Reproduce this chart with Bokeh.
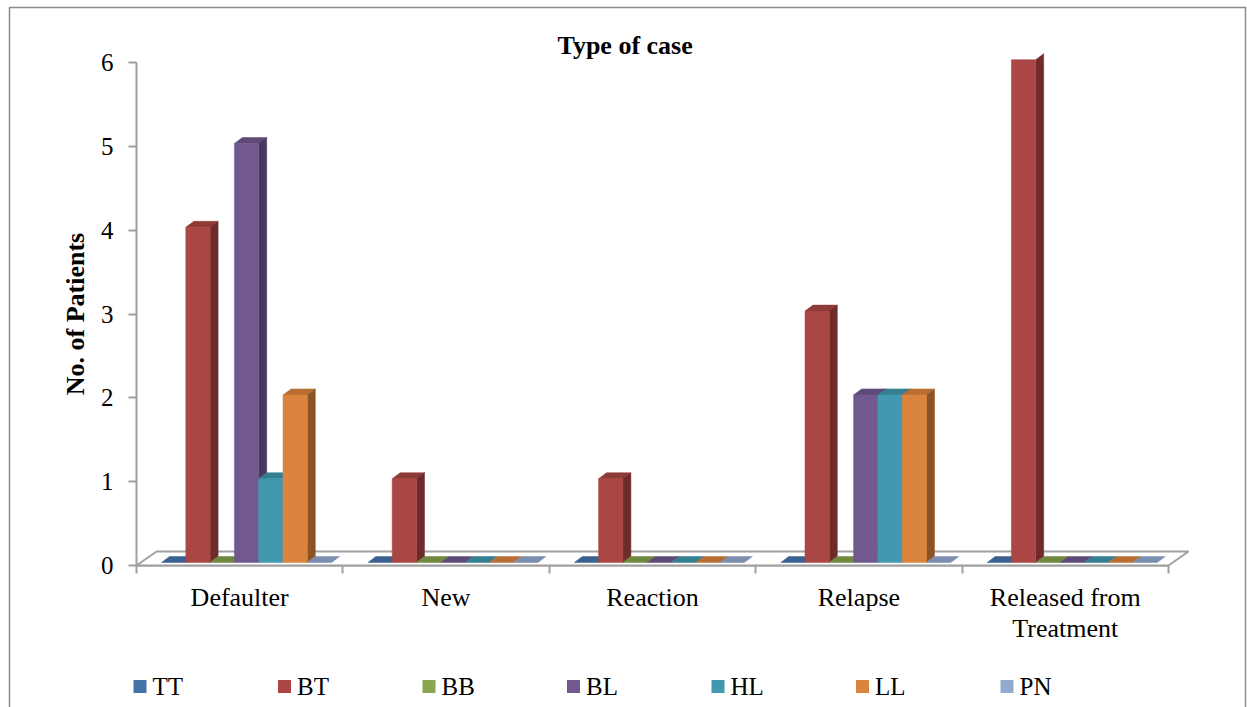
from bokeh.plotting import figure
from bokeh.models import Range1d, LinearAxis, FixedTicker, Title
from bokeh.core.properties import value
from bokeh.embed import file_html
from bokeh.resources import INLINE

# ---------------- data ----------------
categories = ["Defaulter", "New", "Reaction", "Relapse", "Released from\nTreatment"]
series = ["TT", "BT", "BB", "BL", "HL", "LL", "PN"]
TT = [0, 0, 0, 0, 0]
BT = [4, 1, 1, 3, 6]
BB = [0, 0, 0, 0, 0]
BL = [5, 0, 0, 2, 0]
HL = [1, 0, 0, 2, 0]
LL = [2, 0, 0, 2, 0]
PN = [0, 0, 0, 0, 0]
y_ticks = [0, 1, 2, 3, 4, 5, 6]
values = [TT, BT, BB, BL, HL, LL, PN]

front_colors = ["#4572A7", "#AA4643", "#89A54E", "#71588F", "#4198AF", "#DB843D", "#93A9CF"]
side_colors = ["#2C4A70", "#6E2B2A", "#5A6E33", "#48385C", "#2A6474", "#8C5426", "#5F6E87"]
top_colors = ["#3A6190", "#8E3A37", "#70883F", "#5E4978", "#357F93", "#B86E32", "#7B8EAF"]

# ---------------- layout (pixels) ----------------
W, H = 1247, 707
LEFT, RIGHT, TOP, BOTTOM = 136, 10, 62, 142
PX_X = 206.4   # pixels per category
PX_Y = 83.8    # pixels per patient
frame_w = W - LEFT - RIGHT
frame_h = H - TOP - BOTTOM
FONT = "Liberation Serif"
GRAY = "#A0A0A0"

p = figure(width=W, height=H, output_backend="svg", toolbar_location=None,
           x_range=Range1d(0, frame_w / PX_X), y_range=Range1d(0, frame_h / PX_Y),
           x_axis_location=None, y_axis_location=None, title=None,
           min_border_left=LEFT, min_border_right=RIGHT,
           min_border_top=TOP, min_border_bottom=BOTTOM)
p.grid.visible = False
p.outline_line_color = None
p.background_fill_color = "white"
p.border_fill_color = "white"


def dxp(px):
    return px / PX_X


def dyp(px):
    return px / PX_Y


def sx(px):      # canvas pixel -> data x
    return (px - LEFT) / PX_X


def sy(px):      # canvas pixel -> data y
    return (H - BOTTOM - px) / PX_Y


n_cat = len(categories)

# floor
fd_x, fd_y = dxp(20), dyp(14)
p.patch([0, n_cat, n_cat + fd_x, fd_x], [0, 0, fd_y, fd_y],
        fill_color="white", line_color=GRAY, line_width=2, level="overlay")

# 3D bars
bar_w = dxp(24.3)
off0 = dxp(25)
base = dyp(3)
ddx, ddy = dxp(8), dyp(6)
back_xs, back_ys, back_c = [], [], []
front_xs, front_ys, front_c = [], [], []
for i in range(n_cat):
    for j, vals in enumerate(values):
        v = vals[i]
        x0 = i + off0 + j * bar_w
        x1 = x0 + bar_w
        top = base + v
        back_xs.append([x0, x1, x1 + ddx, x0 + ddx])
        back_ys.append([top, top, top + ddy, top + ddy])
        back_c.append(top_colors[j])
        if v > 0:
            back_xs.append([x1, x1 + ddx, x1 + ddx, x1])
            back_ys.append([base, base + ddy, top + ddy, top])
            back_c.append(side_colors[j])
            front_xs.append([x0, x1, x1, x0])
            front_ys.append([base, base, top, top])
            front_c.append(front_colors[j])

p.patches(back_xs, back_ys, fill_color=back_c, line_color=back_c, line_width=0.5, level="overlay")
p.patches(front_xs, front_ys, fill_color=front_c, line_color=front_c, line_width=0.5, level="overlay")

# axes
xaxis = LinearAxis(ticker=FixedTicker(ticks=[i + 0.5 for i in range(n_cat)],
                                      minor_ticks=list(range(n_cat + 1))),
                   bounds=(0, n_cat),
                   major_label_overrides={i + 0.5: c for i, c in enumerate(categories)})
xaxis.axis_line_color = GRAY
xaxis.axis_line_width = 2
xaxis.major_tick_line_color = None
xaxis.major_tick_out = 0
xaxis.major_tick_in = 0
xaxis.minor_tick_line_color = GRAY
xaxis.minor_tick_line_width = 2
xaxis.minor_tick_out = 8
xaxis.minor_tick_in = 0
xaxis.major_label_standoff = 9
xaxis.major_label_text_font = FONT
xaxis.major_label_text_font_size = "26px"
xaxis.major_label_text_line_height = 1.1
xaxis.major_label_text_color = "black"
p.add_layout(xaxis, "below")

yaxis = LinearAxis(ticker=FixedTicker(ticks=y_ticks), bounds=(0, 6),
                   axis_label="No. of Patients")
yaxis.axis_line_color = GRAY
yaxis.axis_line_width = 2
yaxis.major_tick_line_color = GRAY
yaxis.major_tick_line_width = 2
yaxis.major_tick_out = 8
yaxis.major_tick_in = 0
yaxis.minor_tick_line_color = None
yaxis.major_label_standoff = 15
yaxis.major_label_text_font = FONT
yaxis.major_label_text_font_size = "25px"
yaxis.major_label_text_color = "black"
yaxis.axis_label_text_font = FONT
yaxis.axis_label_text_font_size = "26px"
yaxis.axis_label_text_font_style = "bold"
yaxis.axis_label_text_color = "black"
yaxis.axis_label_standoff = 8
p.add_layout(yaxis, "left")

# title
p.add_layout(Title(text="Type of case", align="left", offset=557 - LEFT, standoff=6,
                   text_font=FONT, text_font_size="26px", text_font_style="bold",
                   text_color="black"), "above")

# legend (drawn as marks + texts below the category labels)
LEG_X0, LEG_PITCH, LEG_SQ, LEG_Y = 133, 144.5, 13, 686
lx0 = [sx(LEG_X0 + k * LEG_PITCH) for k in range(len(series))]
p.quad(left=lx0, right=[x + dxp(LEG_SQ) for x in lx0],
       top=[sy(LEG_Y - LEG_SQ / 2)] * len(series), bottom=[sy(LEG_Y + LEG_SQ / 2)] * len(series),
       fill_color=front_colors, line_color=None, level="overlay")
p.text(x=[x + dxp(LEG_SQ + 6) for x in lx0], y=[sy(LEG_Y)] * len(series), text=series,
       text_font=value(FONT), text_font_size="25px", text_color="black",
       text_align="left", text_baseline="middle", level="overlay")

# chart-area border
p.quad(left=[sx(9)], right=[sx(1245)], top=[sy(7)], bottom=[sy(720)],
       fill_color=None, line_color="#8C8C8C", line_width=1.5, level="overlay")

open("out.html", "w").write(file_html(p, INLINE))
